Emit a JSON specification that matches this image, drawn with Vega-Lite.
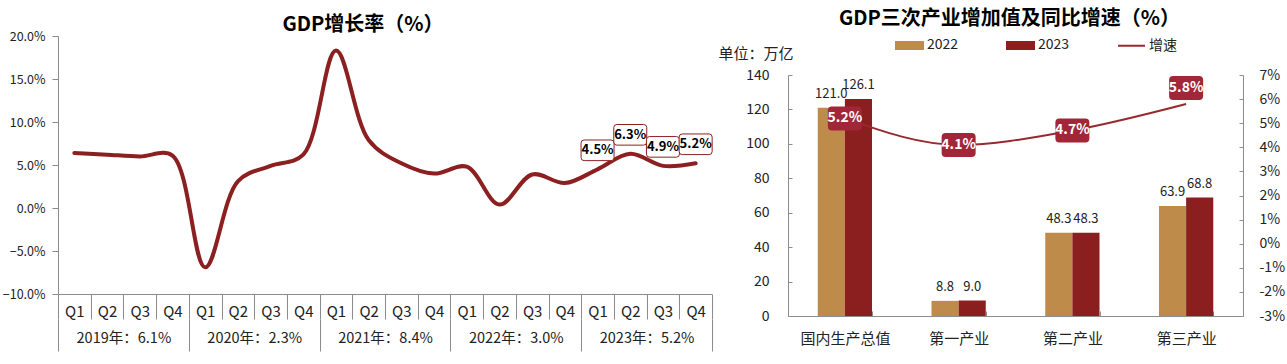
{
  "$schema": "https://vega.github.io/schema/vega-lite/v6.json",
  "padding": {"left": 2, "top": 8, "right": 0, "bottom": 0},
  "spacing": 3,
  "background": "white",
  "config": {
    "font": "Noto Sans CJK SC",
    "view": {"stroke": null},
    "axis": {"labelFont": "Noto Sans CJK SC", "labelColor": "#222222", "domainColor": "#8C8C8C", "tickColor": "#8C8C8C", "grid": false, "titleFont": "Noto Sans CJK SC", "labelOverlap": false},
    "title": {"font": "Noto Sans CJK SC", "fontWeight": "bold", "color": "#000000"},
    "legend": {"labelFont": "Noto Sans CJK SC"}
  },
  "datasets": {
    "gdp": [
      {"p": "2019Q1", "yl": "2019年：6.1%", "g": 6.4, "lab": null},
      {"p": "2019Q2", "yl": "2019年：6.1%", "g": 6.2, "lab": null},
      {"p": "2019Q3", "yl": "2019年：6.1%", "g": 6.0, "lab": null},
      {"p": "2019Q4", "yl": "2019年：6.1%", "g": 6.1, "lab": null},
      {"p": "2020Q1", "yl": "2020年：2.3%", "g": -6.9, "lab": null},
      {"p": "2020Q2", "yl": "2020年：2.3%", "g": 3.1, "lab": null},
      {"p": "2020Q3", "yl": "2020年：2.3%", "g": 4.9, "lab": null},
      {"p": "2020Q4", "yl": "2020年：2.3%", "g": 6.2, "lab": null},
      {"p": "2021Q1", "yl": "2021年：8.4%", "g": 18.3, "lab": null},
      {"p": "2021Q2", "yl": "2021年：8.4%", "g": 7.9, "lab": null},
      {"p": "2021Q3", "yl": "2021年：8.4%", "g": 5.2, "lab": null},
      {"p": "2021Q4", "yl": "2021年：8.4%", "g": 4.0, "lab": null},
      {"p": "2022Q1", "yl": "2022年：3.0%", "g": 4.8, "lab": null},
      {"p": "2022Q2", "yl": "2022年：3.0%", "g": 0.4, "lab": null},
      {"p": "2022Q3", "yl": "2022年：3.0%", "g": 3.9, "lab": null},
      {"p": "2022Q4", "yl": "2022年：3.0%", "g": 2.9, "lab": null},
      {"p": "2023Q1", "yl": "2023年：5.2%", "g": 4.5, "lab": "4.5%"},
      {"p": "2023Q2", "yl": "2023年：5.2%", "g": 6.3, "lab": "6.3%"},
      {"p": "2023Q3", "yl": "2023年：5.2%", "g": 4.9, "lab": "4.9%"},
      {"p": "2023Q4", "yl": "2023年：5.2%", "g": 5.2, "lab": "5.2%"}
    ],
    "bars": [
      {"cat": "国内生产总值", "series": "2022", "v": 121.0},
      {"cat": "国内生产总值", "series": "2023", "v": 126.1},
      {"cat": "第一产业", "series": "2022", "v": 8.8},
      {"cat": "第一产业", "series": "2023", "v": 9.0},
      {"cat": "第二产业", "series": "2022", "v": 48.3},
      {"cat": "第二产业", "series": "2023", "v": 48.3},
      {"cat": "第三产业", "series": "2022", "v": 63.9},
      {"cat": "第三产业", "series": "2023", "v": 68.8}
    ],
    "growth": [
      {"cat": "国内生产总值", "series": "增速", "gr": 5.2, "grl": "5.2%"},
      {"cat": "第一产业", "series": "增速", "gr": 4.1, "grl": "4.1%"},
      {"cat": "第二产业", "series": "增速", "gr": 4.7, "grl": "4.7%"},
      {"cat": "第三产业", "series": "增速", "gr": 5.8, "grl": "5.8%"}
    ]
  },
  "resolve": {"scale": {"color": "independent"}, "legend": {"color": "independent"}},
  "hconcat": [
    {
      "width": 654,
      "height": 258,
      "title": {"text": "GDP增长率（%）", "fontSize": 20, "offset": -5, "dx": -22, "anchor": "middle"},
      "data": {"name": "gdp"},
      "layer": [
        {
          "layer": [
            {
              "mark": {"type": "line", "interpolate": "catmull-rom", "color": "#8C2020", "strokeWidth": 4, "strokeCap": "round"},
              "encoding": {
                "x": {"field": "p", "type": "ordinal", "sort": null, "bandPosition": 0.5,
                  "scale": {"type": "band", "paddingInner": 0, "paddingOuter": 0},
                  "axis": {"title": null, "orient": "bottom", "labelExpr": "indexof(datum.label, 'Q') === 4 ? substring(datum.label, 4, 6) : ''", "tickBand": "extent", "tickSize": 25, "labelPadding": -8, "labelBaseline": "middle", "labelFontSize": 15, "labelAngle": 0}},
                "y": {"field": "g", "type": "quantitative", "scale": {"domain": [-10, 20], "nice": false},
                  "axis": {"title": null, "values": [-10, -5, 0, 5, 10, 15, 20], "tickCount": 20, "labelExpr": "format(datum.value, '.1f') + '%'", "tickSize": 6, "labelPadding": 7, "labelFontSize": 12.5, "labelOverlap": false}}
              }
            },
            {
              "transform": [{"filter": "datum.lab != null"}],
              "mark": {"type": "point", "shape": "M-0.8125,-0.625 H0.8125 Q1,-0.625 1,-0.4375 V0.4375 Q1,0.625 0.8125,0.625 H-0.8125 Q-1,0.625 -1,0.4375 V-0.4375 Q-1,-0.625 -0.8125,-0.625 Z", "size": 1089, "filled": true, "fill": "#FFFFFF", "stroke": "#8C2020", "strokeWidth": 1, "opacity": 1, "yOffset": -19},
              "encoding": {
                "x": {"field": "p", "type": "ordinal", "sort": null, "bandPosition": 0.5, "title": null},
                "y": {"field": "g", "type": "quantitative", "title": null}
              }
            },
            {
              "transform": [{"filter": "datum.lab != null"}],
              "mark": {"type": "text", "fontWeight": "bold", "fontSize": 13, "color": "#000000", "baseline": "middle", "yOffset": -19},
              "encoding": {
                "x": {"field": "p", "type": "ordinal", "sort": null, "bandPosition": 0.5, "title": null},
                "y": {"field": "g", "type": "quantitative", "title": null},
                "text": {"field": "lab"}
              }
            }
          ]
        },
        {
          "mark": {"type": "point", "opacity": 0},
          "encoding": {
            "x": {"field": "yl", "type": "ordinal", "sort": null,
              "scale": {"type": "band", "paddingInner": 0, "paddingOuter": 0},
              "axis": {"title": null, "orient": "bottom", "offset": 25, "domain": false, "tickBand": "extent", "tickSize": 32, "labelPadding": -13, "labelBaseline": "middle", "labelFontSize": 14.5, "labelAngle": 0}}
          }
        }
      ],
      "resolve": {"scale": {"x": "independent"}, "axis": {"x": "independent"}}
    },
    {
      "width": 455,
      "height": 280,
      "title": {"text": "GDP三次产业增加值及同比增速（%）", "fontSize": 20, "offset": 2, "dx": -6, "anchor": "middle"},
      "layer": [
        {
          "data": {"name": "bars"},
          "layer": [
            {
              "mark": {"type": "bar"},
              "encoding": {
                "x": {"field": "cat", "type": "nominal", "sort": null,
                  "scale": {"paddingInner": 0.523, "paddingOuter": 0.2615},
                  "axis": {"title": null, "labelAngle": 0, "labelFontSize": 15, "tickBand": "extent", "tickSize": -5, "labelPadding": 20}},
                "xOffset": {"field": "series", "type": "nominal", "sort": ["2022", "2023"], "scale": {"paddingInner": 0, "paddingOuter": 0}},
                "y": {"field": "v", "type": "quantitative", "scale": {"domain": [0, 140], "nice": false, "range": [280, 39]},
                  "axis": {"orient": "left", "title": "单位：万亿", "titleAngle": 0, "titleAlign": "left", "titleBaseline": "middle", "titleX": -70, "titleY": 17, "titleFontSize": 15, "titleFontWeight": "normal", "titleColor": "#222222", "values": [0, 20, 40, 60, 80, 100, 120, 140], "tickCount": 20, "tickSize": -4, "labelPadding": 23, "labelFontSize": 14, "labelOverlap": false}},
                "color": {"field": "series", "type": "nominal",
                  "scale": {"domain": ["2022", "2023", "增速"], "range": ["#BE8B4A", "#8B1E1E", "#962A2E"]},
                  "legend": {"orient": "none", "legendX": 107, "legendY": -5.5, "direction": "horizontal", "title": null, "labelFontSize": 14, "labelColor": "#222222", "symbolSize": 729, "symbolType": "M-1,-0.26H1V0.26H-1Z", "labelOffset": 3, "columnPadding": 44, "padding": 0,
                    "encode": {"symbols": {"update": {
                      "shape": {"signal": "datum.value === '增速' ? 'M-1,0H1' : 'M-1,-0.26H1V0.26H-1Z'"},
                      "fill": {"signal": "datum.value === '2022' ? '#BE8B4A' : datum.value === '2023' ? '#8B1E1E' : 'transparent'"},
                      "stroke": {"signal": "datum.value === '增速' ? '#962A2E' : 'transparent'"},
                      "strokeWidth": {"value": 2},
                      "opacity": {"value": 1}
                    }}}}
                }
              }
            },
            {
              "mark": {"type": "text", "baseline": "middle", "dy": -14, "fontSize": 13, "color": "#222222"},
              "encoding": {
                "x": {"field": "cat", "type": "nominal", "sort": null},
                "xOffset": {"field": "series", "type": "nominal", "sort": ["2022", "2023"]},
                "y": {"field": "v", "type": "quantitative"},
                "text": {"field": "v", "format": ".1f"}
              }
            }
          ]
        },
        {
          "data": {"name": "growth"},
          "layer": [
            {
              "mark": {"type": "line", "interpolate": "monotone", "strokeWidth": 2},
              "encoding": {
                "x": {"field": "cat", "type": "nominal", "sort": null, "bandPosition": 0.5},
                "y": {"field": "gr", "type": "quantitative", "scale": {"domain": [-3, 7], "nice": false, "range": [280, 39]},
                  "axis": {"orient": "right", "title": null, "values": [-3, -2, -1, 0, 1, 2, 3, 4, 5, 6, 7], "tickCount": 20, "labelExpr": "datum.value + '%'", "tickSize": -4, "labelPadding": 20, "labelFontSize": 14, "labelOverlap": false}},
                "color": {"field": "series", "type": "nominal"}
              }
            },
            {
              "transform": [{"filter": "datum.cat !== '第三产业'"}],
              "layer": [
                {
                  "mark": {"type": "point", "shape": "M-0.765,-0.706 H0.765 Q1,-0.706 1,-0.471 V0.471 Q1,0.706 0.765,0.706 H-0.765 Q-1,0.706 -1,0.471 V-0.471 Q-1,-0.706 -0.765,-0.706 Z", "size": 1156, "filled": true, "fill": "#A12638", "strokeWidth": 0, "opacity": 1},
                  "encoding": {
                    "x": {"field": "cat", "type": "nominal", "sort": null, "bandPosition": 0.5},
                    "y": {"field": "gr", "type": "quantitative"}
                  }
                },
                {
                  "mark": {"type": "text", "color": "#FFFFFF", "fontWeight": "bold", "fontSize": 14, "baseline": "middle"},
                  "encoding": {
                    "x": {"field": "cat", "type": "nominal", "sort": null, "bandPosition": 0.5},
                    "y": {"field": "gr", "type": "quantitative"},
                    "text": {"field": "grl"}
                  }
                }
              ]
            },
            {
              "transform": [{"filter": "datum.cat === '第三产业'"}],
              "layer": [
                {
                  "mark": {"type": "point", "shape": "M-0.765,-0.706 H0.765 Q1,-0.706 1,-0.471 V0.471 Q1,0.706 0.765,0.706 H-0.765 Q-1,0.706 -1,0.471 V-0.471 Q-1,-0.706 -0.765,-0.706 Z", "size": 1156, "filled": true, "fill": "#A12638", "strokeWidth": 0, "opacity": 1, "yOffset": -16},
                  "encoding": {
                    "x": {"field": "cat", "type": "nominal", "sort": null, "bandPosition": 0.5},
                    "y": {"field": "gr", "type": "quantitative"}
                  }
                },
                {
                  "mark": {"type": "text", "color": "#FFFFFF", "fontWeight": "bold", "fontSize": 14, "baseline": "middle", "yOffset": -16},
                  "encoding": {
                    "x": {"field": "cat", "type": "nominal", "sort": null, "bandPosition": 0.5},
                    "y": {"field": "gr", "type": "quantitative"},
                    "text": {"field": "grl"}
                  }
                }
              ]
            }
          ]
        }
      ],
      "resolve": {"scale": {"y": "independent"}}
    }
  ]
}
